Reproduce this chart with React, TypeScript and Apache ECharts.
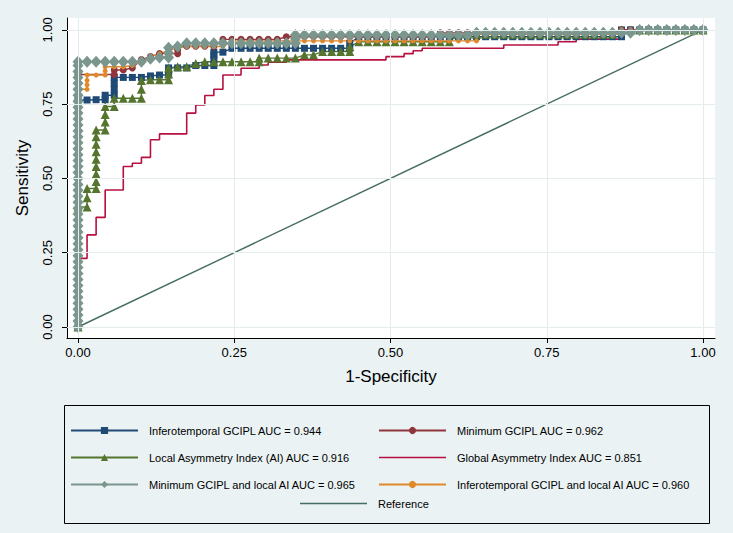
import React, { useEffect, useRef } from "react";
import * as echarts from "echarts";

// ROC points: [false-positive count (out of NEG negatives), sensitivity]
const NEG = 69;

const xTicks = [0, 0.25, 0.5, 0.75, 1];
const yTicks = [0, 0.25, 0.5, 0.75, 1];

const nameNavy = "Inferotemporal GCIPL AUC = 0.944";
const nameMaroon = "Minimum GCIPL AUC = 0.962";
const nameGreen = "Local Asymmetry Index (AI) AUC = 0.916";
const nameCran = "Global Asymmetry Index AUC = 0.851";
const nameDiamond = "Minimum GCIPL and local AI AUC = 0.965";
const nameOrange = "Inferotemporal GCIPL and local AI AUC = 0.960";
const nameRef = "Reference";

const navyPts = [
  [0, 0], [0, 0.764], [1, 0.764], [2, 0.765], [3, 0.765], [3, 0.78], [4, 0.78], [4, 0.8], [4, 0.82], [4, 0.84],
  [5, 0.84], [6, 0.84], [7, 0.84], [8, 0.845], [9, 0.848], [10, 0.848], [10, 0.86], [10, 0.872], [11, 0.872],
  [12, 0.872], [13, 0.88], [14, 0.88], [15, 0.88], [15, 0.9], [15, 0.915], [15, 0.925], [16, 0.925],
  [17, 0.938], [18, 0.938], [19, 0.938], [20, 0.938], [21, 0.938], [22, 0.938], [23, 0.938], [24, 0.938],
  [25, 0.938], [26, 0.938], [27, 0.938], [28, 0.938], [29, 0.938], [30, 0.938], [30, 0.955],
  [31, 0.977], [32, 0.977], [33, 0.977], [34, 0.977], [35, 0.977], [36, 0.977], [37, 0.977], [38, 0.977],
  [39, 0.977], [40, 0.977], [41, 0.977], [42, 0.977], [43, 0.977], [44, 0.977], [45, 0.977], [46, 0.977],
  [47, 0.977], [48, 0.977], [49, 0.977], [50, 0.977], [51, 0.977], [52, 0.977], [53, 0.977], [54, 0.977],
  [55, 0.977], [56, 0.977], [57, 0.977], [58, 0.977], [59, 0.977], [60, 0.977], [60, 1],
  [61, 1], [62, 1], [63, 1], [64, 1], [65, 1], [66, 1], [67, 1], [68, 1], [69, 1],
];

const maroonPts = [
  [0, 0], [0, 0.85], [4, 0.85], [4, 0.865], [5, 0.865], [6, 0.872], [7, 0.9], [8, 0.91], [9, 0.92], [10, 0.92],
  [11, 0.92], [11, 0.932], [11, 0.945], [12, 0.945], [13, 0.945], [14, 0.945], [15, 0.945],
  [16, 0.968], [17, 0.968], [18, 0.968], [19, 0.968], [20, 0.968], [21, 0.968], [22, 0.968],
  [23, 0.977], [24, 0.977], [25, 0.977], [26, 0.977], [27, 0.977], [28, 0.977], [29, 0.977], [30, 0.977],
  [31, 0.977], [32, 0.977], [33, 0.977], [34, 0.977], [35, 0.977], [36, 0.977], [37, 0.977], [38, 0.977],
  [39, 0.977], [40, 0.99], [41, 0.99], [42, 0.99], [43, 0.99], [44, 0.99], [45, 0.99], [46, 0.99], [47, 0.99],
  [48, 0.99], [49, 0.99], [50, 0.99], [51, 0.99], [52, 0.99], [53, 0.99], [54, 0.99], [55, 0.99], [56, 0.99],
  [57, 0.99], [58, 0.99], [59, 0.99], [60, 1], [61, 1], [62, 1], [63, 1], [64, 1], [65, 1], [66, 1], [67, 1],
  [68, 1], [69, 1],
];

const greenPts = [
  [0, 0], [0, 0.404], [1, 0.404], [1, 0.435], [1, 0.466], [2, 0.466], [2, 0.49], [2, 0.515], [2, 0.54],
  [2, 0.565], [2, 0.59], [2, 0.615], [2, 0.64], [2, 0.663], [3, 0.663], [3, 0.69], [3, 0.715], [3, 0.742],
  [4, 0.742], [4, 0.77], [5, 0.77], [6, 0.77], [7, 0.77], [7, 0.8], [7, 0.83], [8, 0.832], [9, 0.832],
  [10, 0.832], [10, 0.852], [10, 0.872], [11, 0.876], [12, 0.876], [13, 0.887], [14, 0.893], [15, 0.893],
  [16, 0.893], [17, 0.893], [18, 0.893], [19, 0.893], [20, 0.893], [20, 0.905], [21, 0.905], [22, 0.905],
  [23, 0.905], [24, 0.905], [25, 0.916], [26, 0.916], [27, 0.927], [28, 0.927], [29, 0.927], [30, 0.927],
  [30, 0.944], [31, 0.96], [32, 0.96], [33, 0.96], [34, 0.96], [35, 0.96], [36, 0.96], [37, 0.96], [38, 0.96],
  [39, 0.96], [40, 0.96], [41, 0.96], [42, 0.985], [43, 0.985], [44, 0.985], [45, 0.985], [46, 0.985],
  [47, 0.985], [48, 0.985], [49, 0.985], [50, 0.985], [51, 0.985], [52, 0.985], [53, 0.985], [54, 0.985],
  [55, 0.985], [56, 0.985], [57, 0.985], [58, 0.985], [59, 0.985], [60, 1], [61, 1], [62, 1], [63, 1],
  [64, 1], [65, 1], [66, 1], [67, 1], [68, 1], [69, 1],
];

const cranPts = [
  [0, 0], [0, 0.231], [1, 0.231], [1, 0.31], [2, 0.31], [2, 0.369], [3, 0.369], [3, 0.461], [5, 0.461],
  [5, 0.54], [6, 0.54], [6, 0.551], [7, 0.551], [7, 0.571], [8, 0.571], [8, 0.63], [9, 0.63], [9, 0.65],
  [12, 0.65], [12, 0.72], [13, 0.72], [13, 0.747], [14, 0.747], [14, 0.779], [15, 0.779], [15, 0.8],
  [16, 0.8], [16, 0.848], [18, 0.848], [18, 0.871], [20, 0.871], [20, 0.882], [21, 0.882], [21, 0.891],
  [23, 0.891], [23, 0.899], [34, 0.899], [34, 0.91], [36, 0.91], [36, 0.92], [37, 0.92], [37, 0.93],
  [38, 0.93], [38, 0.938], [47, 0.938], [47, 0.949], [53, 0.949], [53, 0.96], [55, 0.96], [55, 0.969],
  [60, 0.969], [60, 1], [69, 1],
];

const diamondPts = [
  [0, 0], [0, 0.02], [0, 0.04], [0, 0.06], [0, 0.08], [0, 0.1], [0, 0.12], [0, 0.14], [0, 0.16], [0, 0.18],
  [0, 0.2], [0, 0.22], [0, 0.24], [0, 0.26], [0, 0.28], [0, 0.3], [0, 0.32], [0, 0.34], [0, 0.36], [0, 0.38],
  [0, 0.4], [0, 0.42], [0, 0.44], [0, 0.46], [0, 0.48], [0, 0.5], [0, 0.52], [0, 0.54], [0, 0.56], [0, 0.58],
  [0, 0.6], [0, 0.62], [0, 0.64], [0, 0.66], [0, 0.68], [0, 0.7], [0, 0.72], [0, 0.74], [0, 0.76], [0, 0.78],
  [0, 0.8], [0, 0.82], [0, 0.84], [0, 0.86], [0, 0.88],
  [0, 0.893], [1, 0.893], [2, 0.893], [3, 0.893], [4, 0.893], [5, 0.893], [6, 0.893], [7, 0.893],
  [8, 0.903], [9, 0.907], [10, 0.907], [10, 0.922], [10, 0.94], [11, 0.944], [12, 0.955], [13, 0.955],
  [14, 0.955], [15, 0.955], [16, 0.955], [17, 0.955], [18, 0.955], [19, 0.955], [20, 0.955], [21, 0.955],
  [22, 0.955], [23, 0.955], [24, 0.955], [24, 0.97], [24, 0.983], [25, 0.983], [26, 0.983], [27, 0.983],
  [28, 0.983], [29, 0.983], [30, 0.983], [31, 0.983], [32, 0.983], [33, 0.983], [34, 0.983], [35, 0.983],
  [36, 0.983], [37, 0.983], [38, 0.983], [39, 0.983], [40, 0.983], [41, 0.983], [42, 0.983], [43, 0.983],
  [44, 0.99], [45, 0.99], [46, 0.99], [47, 0.99], [48, 0.99], [49, 0.99], [50, 0.99], [51, 0.99], [52, 0.99],
  [53, 0.99], [54, 0.99], [55, 0.99], [56, 0.99], [57, 0.99], [58, 0.99], [59, 0.99], [60, 0.99], [61, 0.99],
  [62, 1], [63, 1], [64, 1], [65, 1], [66, 1], [67, 1], [68, 1], [69, 1],
];

const orangePts = [
  [0, 0], [0, 0.8], [1, 0.8], [1, 0.815], [1, 0.83], [1, 0.848], [2, 0.848], [3, 0.848], [3, 0.862],
  [3, 0.876], [4, 0.876], [5, 0.876], [6, 0.88], [7, 0.893], [8, 0.91], [9, 0.92], [10, 0.93], [11, 0.94],
  [12, 0.944], [13, 0.944], [14, 0.944], [15, 0.944], [16, 0.944], [17, 0.963], [18, 0.963], [19, 0.963],
  [20, 0.963], [21, 0.963], [22, 0.963], [23, 0.963], [24, 0.963], [25, 0.963], [26, 0.963], [27, 0.963],
  [28, 0.963], [29, 0.963], [30, 0.963], [31, 0.963], [32, 0.963], [33, 0.963], [34, 0.963], [35, 0.963],
  [36, 0.963], [37, 0.963], [38, 0.963], [39, 0.963], [40, 0.963], [41, 0.963], [42, 0.963], [43, 0.963],
  [44, 0.963], [44, 0.985], [45, 0.985], [46, 0.985], [47, 0.985], [48, 0.985], [49, 0.985], [50, 0.985],
  [51, 0.985], [52, 0.985], [53, 0.985], [54, 0.985], [55, 0.985], [56, 0.985], [57, 0.985], [58, 0.985],
  [59, 0.985], [60, 0.985], [60, 1], [61, 1], [62, 1], [63, 1], [64, 1], [65, 1], [66, 1], [67, 1], [68, 1],
  [69, 1],
];

const refPts = [
  [0, 0],
  [69, 1],
];

const FONT = '"Liberation Sans", Arial, Helvetica, sans-serif';

const toXY = (pts: number[][]) => pts.map(([k, y]) => [k / NEG, y]);

function rocSeries(
  name: string,
  pts: number[][],
  color: string,
  symbol: string,
  symbolSize: number | number[],
  width: number
) {
  return {
    name,
    type: "line",
    data: toXY(pts),
    color,
    symbol,
    symbolSize,
    showSymbol: symbol !== "none",
    showAllSymbol: true,
    lineStyle: { color, width },
    itemStyle: { color, borderWidth: 0 },
    silent: true,
    z: 3,
    emphasis: { disabled: true },
  };
}

const legendBase = {
  orient: "vertical",
  itemWidth: 67,
  itemHeight: 9,
  itemGap: 16,
  padding: 0,
  selectedMode: false,
  textStyle: { fontSize: 11, color: "#000", fontFamily: FONT, padding: [0, 0, 0, 6] },
};

const lineIcon = "path://M0,0H100V2H0Z";

export default function App() {
  const ref = useRef<HTMLDivElement>(null);
  useEffect(() => {
    const chart = echarts.init(ref.current!, null, { renderer: "svg" });
    const option = {
      animation: false,
      backgroundColor: "#eaf2f3",
      textStyle: { fontFamily: FONT },
      grid: {
        left: 67,
        top: 18,
        width: 648,
        height: 320,
        show: true,
        backgroundColor: "#ffffff",
        borderWidth: 0,
      },
      xAxis: {
        type: "value",
        min: -0.0176,
        max: 1.0192,
        axisLine: { show: true, onZero: false, lineStyle: { color: "#000", width: 1 } },
        axisTick: { show: true, customValues: xTicks, length: 5, lineStyle: { color: "#000" } },
        axisLabel: {
          customValues: xTicks,
          formatter: (v: number) => v.toFixed(2),
          fontSize: 13,
          color: "#000",
          margin: 8,
        },
        splitLine: { show: false },
        name: "1-Specificity",
        nameLocation: "middle",
        nameGap: 30,
        nameTextStyle: { fontSize: 17, color: "#000" },
      },
      yAxis: {
        type: "value",
        min: -0.037,
        max: 1.04,
        axisLine: { show: true, onZero: false, lineStyle: { color: "#000", width: 1 } },
        axisTick: { show: true, customValues: yTicks, length: 5, lineStyle: { color: "#000" } },
        axisLabel: {
          customValues: yTicks,
          formatter: (v: number) => v.toFixed(2),
          fontSize: 13,
          color: "#000",
          rotate: 90,
          margin: 13,
        },
        splitLine: { show: false },
        name: "Sensitivity",
        nameLocation: "middle",
        nameRotate: 90,
        nameGap: 36,
        nameTextStyle: { fontSize: 17, color: "#000" },
      },
      legend: [
        {
          ...legendBase,
          left: 70,
          top: 425,
          data: [nameNavy, nameGreen, nameDiamond],
        },
        {
          ...legendBase,
          left: 378,
          top: 425,
          data: [nameMaroon, { name: nameCran, icon: lineIcon }, nameOrange],
        },
        {
          ...legendBase,
          left: 300,
          top: 498,
          data: [{ name: nameRef, icon: lineIcon }],
        },
      ],
      graphic: [
        {
          type: "rect",
          left: 62,
          top: 403,
          shape: { width: 645, height: 118 },
          style: { fill: "none", stroke: "#000", lineWidth: 1 },
          silent: true,
        },
      ],
      series: [
        {
          type: "line",
          data: [],
          silent: true,
          z: 1,
          markLine: {
            silent: true,
            symbol: ["none", "none"],
            label: { show: false },
            lineStyle: { color: "#e4ecee", width: 1, type: "solid" },
            emphasis: { disabled: true },
            data: [...xTicks.map((v) => ({ xAxis: v })), ...yTicks.map((v) => ({ yAxis: v }))],
          },
        },
        rocSeries(nameNavy, navyPts, "#1f4a75", "rect", 7, 1.4),
        rocSeries(nameMaroon, maroonPts, "#90353b", "circle", 7, 1.4),
        rocSeries(nameGreen, greenPts, "#55752f", "triangle", 9, 1.4),
        rocSeries(nameOrange, orangePts, "#e0882a", "circle", 5, 1.4),
        rocSeries(nameDiamond, diamondPts, "#7a968d", "diamond", [11, 12], 1.4),
        rocSeries(nameCran, cranPts, "#b8103f", "none", 0, 1.6),
        rocSeries(nameRef, refPts, "#466e62", "none", 0, 1.4),
      ],
    };
    chart.setOption(option as any);
    return () => chart.dispose();
  }, []);
  return (
    <div
      ref={ref}
      style={{ position: "fixed", left: 0, top: 0, width: 733, height: 533 }}
    />
  );
}
